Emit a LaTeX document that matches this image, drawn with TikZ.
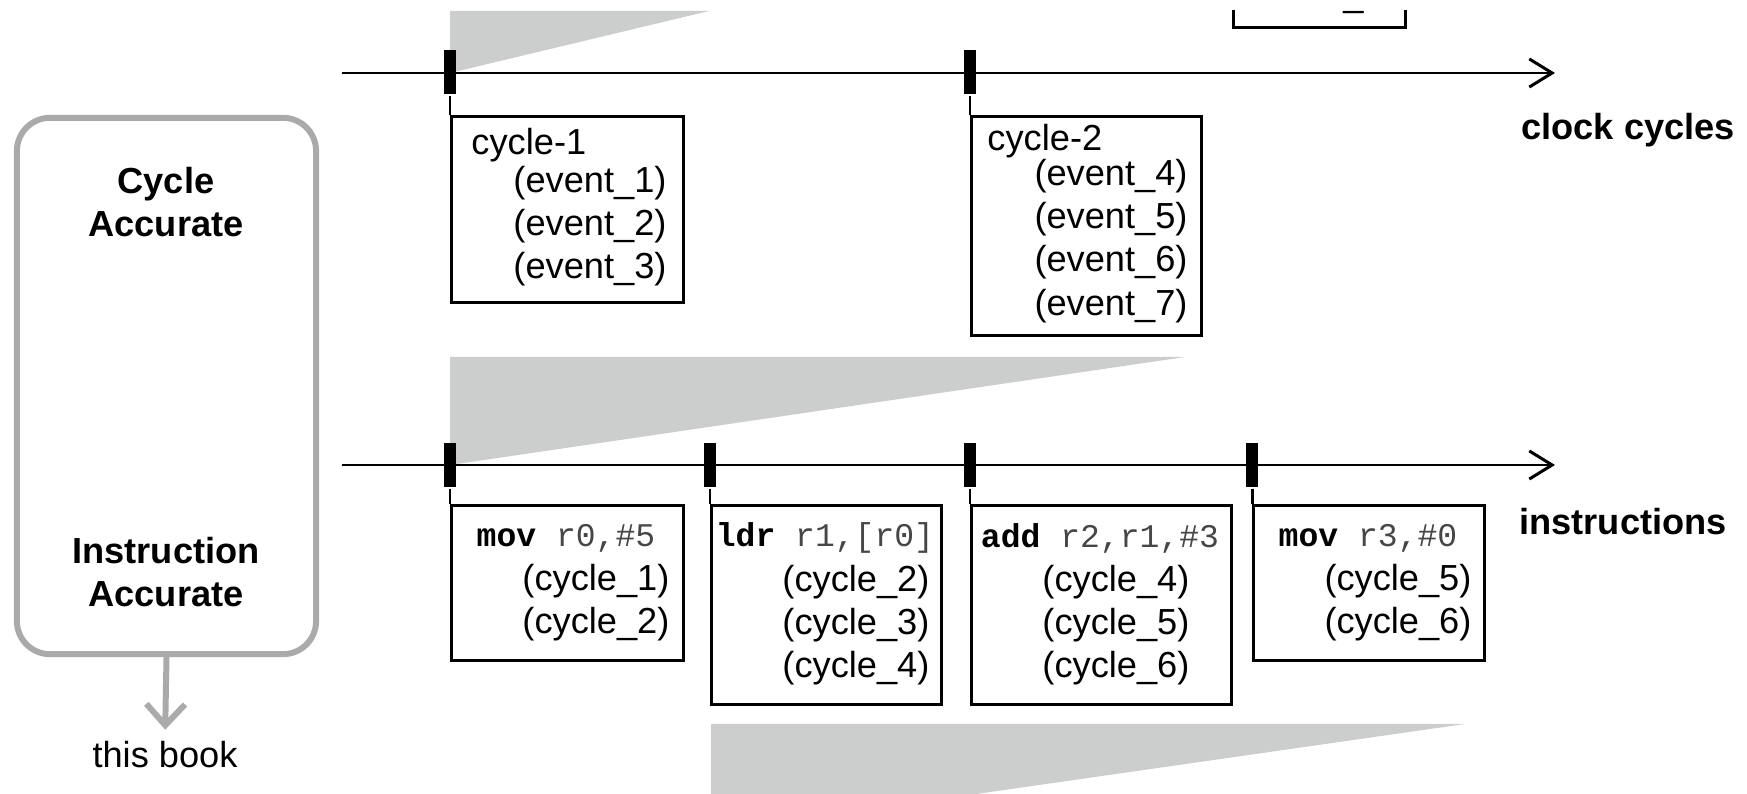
\documentclass[tikz,border=0pt]{standalone}
\usepackage{fontspec}
\setmainfont{Liberation Sans}
\setmonofont{Liberation Mono}
\usetikzlibrary{arrows.meta,positioning}
\definecolor{zoomgray}{RGB}{204,205,205}
\definecolor{framegray}{RGB}{170,170,170}
\definecolor{opgray}{RGB}{70,70,70}
\newcommand{\labelsize}{\fontsize{10.3}{12.3}\selectfont}

\begin{document}
\begin{tikzpicture}[x=0.01cm,y=-0.01cm,line width=0.85pt,font=\labelsize,
    >={Straight Barb[length=6.5pt,width=8pt]},
    tickmark/.style={fill=black,inner sep=0pt,minimum width=0.12cm,minimum height=0.44cm},
    timebox/.style={draw,inner sep=0pt,anchor=north west},
    entry/.style={anchor=west,inner sep=0pt,align=left},
    code/.style={inner sep=0pt,font=\ttfamily\fontsize{9.4}{12}\selectfont},
    axisname/.style={anchor=west,inner sep=0pt,font=\labelsize\bfseries},
    modelname/.style={align=center,inner sep=0pt,font=\labelsize\bfseries}]

  \useasboundingbox (0,0) rectangle (1747,794);

  \begin{scope}
    \clip (0,11) rectangle (1747,794);
    \fill[zoomgray] (450,11) -- (709,11) -- (450,73) -- cycle;
    \fill[zoomgray] (450,357) -- (1185,357) -- (450,465) -- cycle;
    \fill[zoomgray] (711,724) -- (1465,724) -- (711,832) -- cycle;
    \node[draw,inner sep=0pt,anchor=south west,minimum width=1.72cm,minimum height=0.5cm] (prev) at (1232,29) {};
    \node[anchor=base west,inner sep=0pt] (prevtext) at (1342,7) {\_};
  \end{scope}

  % clock cycles
  \coordinate (cstart) at (342,73);
  \coordinate (cend) at (1555,73);
  \draw[->] (cstart) -- (cend);
  \node[axisname] (clk) at (1520,130) {clock cycles};

  \node[tickmark] (c1) at (450,72) {};
  \node[tickmark] (c2) at (970,72) {};

  \node[timebox,minimum width=2.32cm,minimum height=1.86cm] (cyc1) at (450,115) {};
  \node[timebox,minimum width=2.30cm,minimum height=2.19cm] (cyc2) at (970,115) {};
  \draw (c1.south) -- (cyc1.north west);
  \draw (c2.south) -- (cyc2.north west);

  \node[entry] (cyc1head) at (470,145) {cycle-1};
  \node[entry] (cyc1ev) at (512,226) {(event\_1)\\(event\_2)\\(event\_3)};
  \node[entry] (cyc2head) at (986,141) {cycle-2};
  \node[entry] (cyc2ev) at (1033,241) {(event\_4)\\(event\_5)\\(event\_6)\\(event\_7)};

  % instructions
  \coordinate (istart) at (342,465);
  \coordinate (iend) at (1555,465);
  \draw[->] (istart) -- (iend);
  \node[axisname] (instr) at (1518,522) {instructions};

  \node[tickmark] (i1) at (450,465) {};
  \node[tickmark] (i2) at (710,465) {};
  \node[tickmark] (i3) at (970,465) {};
  \node[tickmark] (i4) at (1252,465) {};

  \node[timebox,minimum width=2.32cm,minimum height=1.545cm] (ins1) at (450,504) {};
  \node[timebox,minimum width=2.30cm,minimum height=1.99cm] (ins2) at (710,504) {};
  \node[timebox,minimum width=2.60cm,minimum height=1.99cm] (ins3) at (970,504) {};
  \node[timebox,minimum width=2.31cm,minimum height=1.545cm] (ins4) at (1252,504) {};
  \draw (i1.south) -- (ins1.north west);
  \draw (i2.south) -- (ins2.north west);
  \draw (i3.south) -- (ins3.north west);
  \draw (i4.south) -- (ins4.north west);

  \node[code] (ins1op) at (566,538) {\textbf{mov} \textcolor{opgray}{r0,\#5}};
  \node[code] (ins2op) at (825,538) {\textbf{ldr} \textcolor{opgray}{r1,[r0]}};
  \node[code] (ins3op) at (1100,538) {\textbf{add} \textcolor{opgray}{r2,r1,\#3}};
  \node[code] (ins4op) at (1368,538) {\textbf{mov} \textcolor{opgray}{r3,\#0}};

  \node[entry] (ins1cy) at (521,603) {(cycle\_1)\\(cycle\_2)};
  \node[entry] (ins2cy) at (781,625) {(cycle\_2)\\(cycle\_3)\\(cycle\_4)};
  \node[entry] (ins3cy) at (1041,625) {(cycle\_4)\\(cycle\_5)\\(cycle\_6)};
  \node[entry] (ins4cy) at (1323,603) {(cycle\_5)\\(cycle\_6)};

  % accuracy levels
  \node[draw=framegray,line width=1.7pt,rounded corners=0.33cm,
        minimum width=2.99cm,minimum height=5.36cm] (acc) at (166.5,386) {};
  \node[modelname] (cycacc) at (166,202) {Cycle\\Accurate};
  \node[modelname] (insacc) at (166,572) {Instruction\\Accurate};
  \node[inner sep=0pt] (book) at (165,755) {this book};
  \draw[framegray,line width=1.7pt,-{Straight Barb[length=6pt,width=11pt]},shorten >=3pt]
    (acc.south) -- (book.north);
\end{tikzpicture}
\end{document}
